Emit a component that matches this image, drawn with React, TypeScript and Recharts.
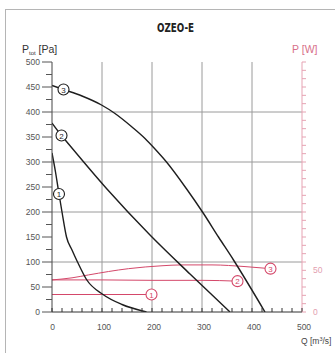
import React from 'react';
import { LineChart, Line, XAxis, YAxis, ReferenceLine } from 'recharts';

// ---- axis ticks ----
const qTicks = [0, 20, 40, 60, 80, 100, 120, 140, 160, 180, 200, 220, 240, 260, 280, 300, 320, 340, 360, 380, 400, 420, 440, 460, 480, 500];
const qLabels = [0, 100, 200, 300, 400, 500];
const pTicks = [0, 25, 50, 75, 100, 125, 150, 175, 200, 225, 250, 275, 300, 325, 350, 375, 400, 425, 450, 475, 500];
const pLabels = [0, 50, 100, 150, 200, 250, 300, 350, 400, 450, 500];
const wTicks = [0, 10, 20, 30, 40, 50, 60, 70, 80, 90, 100, 110, 120, 130, 140, 150, 160, 170, 180, 190, 200, 210, 220, 230, 240, 250, 260, 270, 280, 290, 300];
const wLabels = [0, 50];
const qGrid = [100, 200, 300, 400];
const pGrid = [100, 200, 300, 400];

// ---- pressure curves (Q [m3/h], P [Pa]) ----
const curve1Q = [0, 7, 14, 20, 29, 40, 51, 69, 102, 140, 189];
const curve1P = [318, 280, 236, 200, 150, 124, 100, 65, 35, 15, 0];
const curve1Marker = 2;

const curve2Q = [0, 19, 29, 109, 196, 276, 356];
const curve2P = [378, 353, 341, 247, 154, 76, 0];
const curve2Marker = 1;

const curve3Q = [0, 23, 60, 99, 126, 160, 186, 206, 229, 270, 303, 333, 363, 426];
const curve3P = [453, 445, 432, 414, 397, 370, 347, 326, 300, 245, 197, 150, 104, 0];
const curve3Marker = 1;

// ---- power curves (Q [m3/h], P [W]) ----
const power1Q = [0, 100, 199];
const power1W = [21, 21, 21];
const power2Q = [0, 100, 200, 300, 371];
const power2W = [38.5, 38.5, 38, 38, 37];
const power3Q = [0, 40, 73, 153, 220, 260, 320, 386, 437];
const power3W = [38.5, 41, 44.5, 52, 55.5, 56.5, 56.5, 54.5, 52];

const build = (qs: number[], vs: number[], markerIdx: number, label: string) =>
  qs.map((q, i) => ({ q, v: vs[i], m: i === markerIdx ? label : undefined }));

const c1 = build(curve1Q, curve1P, curve1Marker, '1');
const c2 = build(curve2Q, curve2P, curve2Marker, '2');
const c3 = build(curve3Q, curve3P, curve3Marker, '3');
const w1 = build(power1Q, power1W, power1Q.length - 1, '1');
const w2 = build(power2Q, power2W, power2Q.length - 1, '2');
const w3 = build(power3Q, power3W, power3Q.length - 1, '3');

const FONT = '"Liberation Sans", Arial, sans-serif';
const BLACK = '#1e1e1e';
const PINK = '#d4486a';
const PINK_LIGHT = '#e6a3b3';

const makeDot = (color: string) => (props: any) => {
  const { cx, cy, payload, index } = props;
  if (!payload || !payload.m) return <g key={`d${index}`} />;
  return (
    <g key={`d${index}`}>
      <circle cx={cx} cy={cy} r={5.5} fill="#fff" stroke={color} strokeWidth={1.1} />
      <text x={cx} y={cy + 3} textAnchor="middle" fontSize={8} fontFamily={FONT} fill={color}>
        {payload.m}
      </text>
    </g>
  );
};

const LeftTick = (props: any) => {
  const { x, y, payload } = props;
  const v = payload.value;
  const major = pLabels.includes(v);
  return (
    <g>
      <line x1={x - (major ? 10 : 6)} x2={x} y1={y} y2={y} stroke="#555" strokeWidth={1} />
      {major && (
        <text x={x - 12} y={y + 3} textAnchor="end" fontSize={8.5} fontFamily={FONT} fill="#555">
          {v}
        </text>
      )}
    </g>
  );
};

const BottomTick = (props: any) => {
  const { x, y, payload } = props;
  const v = payload.value;
  const lab = qLabels.includes(v);
  return (
    <g>
      <line x1={x} x2={x} y1={y} y2={y - 4} stroke="#333" strokeWidth={1} />
      {lab && (
        <text x={x + (v === 0 ? 0.5 : 2)} y={y + 18} textAnchor="middle" fontSize={8.5} fontFamily={FONT} fill="#555">
          {v}
        </text>
      )}
    </g>
  );
};

const RightTick = (props: any) => {
  const { x, y, payload } = props;
  const v = payload.value;
  const lab = wLabels.includes(v);
  return (
    <g>
      <line x1={x} x2={x + 4} y1={y} y2={y} stroke={PINK_LIGHT} strokeWidth={1} />
      {lab && (
        <text x={x + 11} y={y + 3} textAnchor="start" fontSize={8.5} fontFamily={FONT} fill="#e3a0b0">
          {v}
        </text>
      )}
    </g>
  );
};

export default function App() {
  return (
    <div style={{ position: 'absolute', left: 0, top: 0, width: 335, height: 353, overflow: 'hidden', background: '#fff' }}>
      <svg width={335} height={353} style={{ position: 'absolute', left: 0, top: 0 }}>
        <rect x={5.5} y={9.5} width={400} height={400} fill="#fff" stroke="#b5b5b5" strokeWidth={1} />
        <text x={157} y={31.5} fontSize={12.5} fontWeight="bold" textLength={37} lengthAdjust="spacingAndGlyphs"
          fontFamily='"DejaVu Sans", sans-serif' fill="#222">
          OZEO-E
        </text>
        <text x={22} y={53} fontSize={10.5} fontFamily={FONT} fill="#333">
          P<tspan fontSize={6} dy={2}>tot</tspan><tspan dy={-2}> [Pa]</tspan>
        </text>
        <text x={292} y={53} fontSize={10.5} fontFamily={FONT} fill="#d8708a">
          P [W]
        </text>
        <text x={301} y={344} fontSize={8.5} fontFamily={FONT} fill="#444">
          Q [m<tspan fontSize={5.5} dy={-3}>3</tspan><tspan dy={3}>/s]</tspan>
        </text>
      </svg>
      <div style={{ position: 'absolute', left: 0, top: 0 }}>
        <LineChart width={335} height={353} margin={{ top: 62, right: 0, bottom: 11, left: 0 }}>
          <XAxis
            dataKey="q"
            type="number"
            domain={[0, 500]}
            ticks={qTicks}
            interval={0}
            tickSize={0}
            tickMargin={0}
            height={30}
            axisLine={{ stroke: '#333', strokeWidth: 1 }}
            tick={<BottomTick />}
            allowDataOverflow
          />
          <YAxis
            type="number"
            domain={[0, 500]}
            ticks={pTicks}
            interval={0}
            tickSize={0}
            tickMargin={0}
            width={52}
            axisLine={{ stroke: '#444', strokeWidth: 1 }}
            tick={<LeftTick />}
            allowDataOverflow
          />
          <YAxis
            yAxisId="w"
            orientation="right"
            type="number"
            domain={[0, 300]}
            ticks={wTicks}
            interval={0}
            tickSize={0}
            tickMargin={0}
            width={33}
            axisLine={{ stroke: PINK_LIGHT, strokeWidth: 1 }}
            tick={<RightTick />}
            allowDataOverflow
          />
          {qGrid.map((q) => (
            <ReferenceLine key={`vx${q}`} x={q} stroke="#9a9a9a" strokeWidth={1} />
          ))}
          {pGrid.map((p) => (
            <ReferenceLine key={`hy${p}`} y={p} stroke="#9a9a9a" strokeWidth={1} />
          ))}
          <Line data={w1} yAxisId="w" dataKey="v" type="monotone" stroke={PINK} strokeWidth={1} dot={makeDot(PINK)} activeDot={false} isAnimationActive={false} />
          <Line data={w2} yAxisId="w" dataKey="v" type="monotone" stroke={PINK} strokeWidth={1} dot={makeDot(PINK)} activeDot={false} isAnimationActive={false} />
          <Line data={w3} yAxisId="w" dataKey="v" type="monotone" stroke={PINK} strokeWidth={1} dot={makeDot(PINK)} activeDot={false} isAnimationActive={false} />
          <Line data={c1} dataKey="v" type="monotone" stroke={BLACK} strokeWidth={1.4} dot={makeDot(BLACK)} activeDot={false} isAnimationActive={false} />
          <Line data={c2} dataKey="v" type="monotone" stroke={BLACK} strokeWidth={1.4} dot={makeDot(BLACK)} activeDot={false} isAnimationActive={false} />
          <Line data={c3} dataKey="v" type="monotone" stroke={BLACK} strokeWidth={1.4} dot={makeDot(BLACK)} activeDot={false} isAnimationActive={false} />
        </LineChart>
      </div>
    </div>
  );
}
